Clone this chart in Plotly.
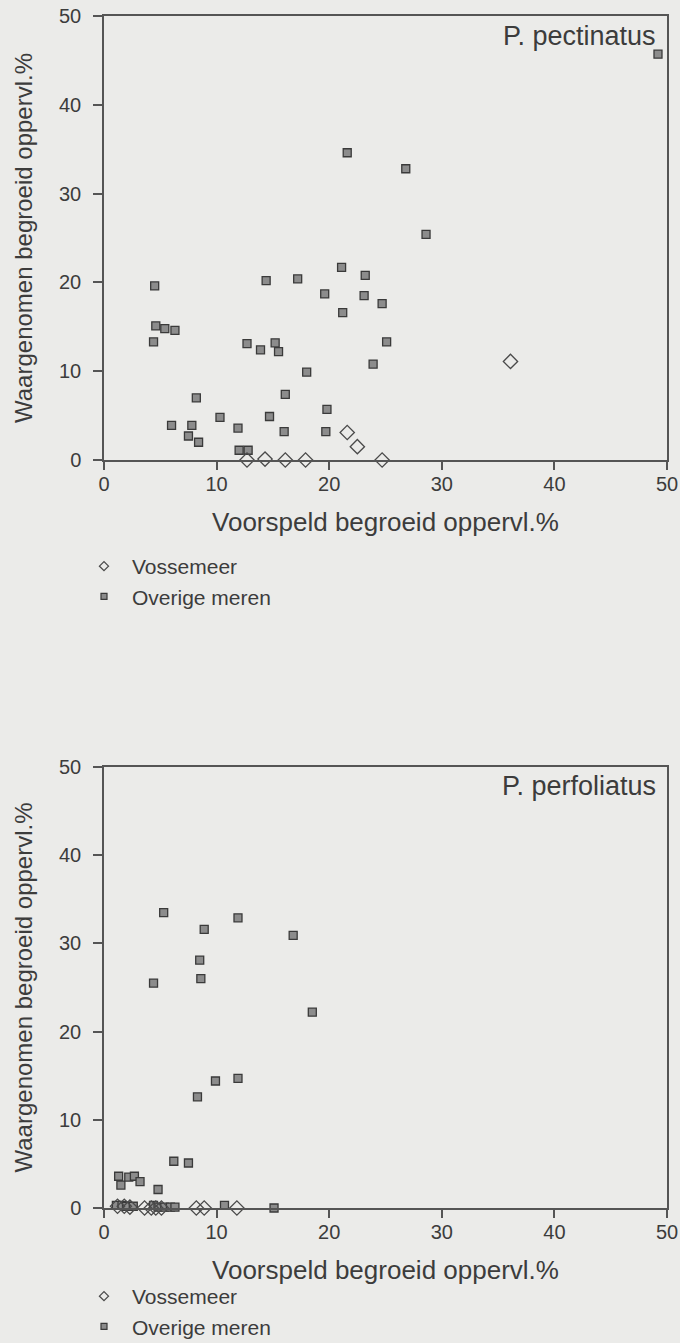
import plotly.graph_objects as go

# ---- Panel 1: P. pectinatus ----
pect_vosse_x = [36.1, 21.6, 22.5, 12.7, 14.3, 16.1, 17.9, 24.7]
pect_vosse_y = [11.1, 3.1, 1.5, 0.0, 0.1, 0.0, 0.0, 0.0]
pect_over_x = [49.2, 21.6, 26.8, 28.6, 21.1, 4.5, 14.4, 17.2, 19.6, 23.2, 23.1, 24.7, 21.2,
               4.6, 5.4, 6.3, 4.4, 12.7, 13.9, 15.2, 15.5, 25.1, 23.9, 18.0, 16.1, 8.2,
               19.8, 10.3, 14.7, 6.0, 7.8, 11.9, 16.0, 19.7, 7.5, 8.4, 12.0, 12.8]
pect_over_y = [45.7, 34.6, 32.8, 25.4, 21.7, 19.6, 20.2, 20.4, 18.7, 20.8, 18.5, 17.6, 16.6,
               15.1, 14.8, 14.6, 13.3, 13.1, 12.4, 13.2, 12.2, 13.3, 10.8, 9.9, 7.4, 7.0,
               5.7, 4.8, 4.9, 3.9, 3.9, 3.6, 3.2, 3.2, 2.7, 2.0, 1.1, 1.1]

# ---- Panel 2: P. perfoliatus ----
perf_vosse_x = [1.2, 1.8, 2.3, 3.6, 4.2, 4.6, 5.1, 8.2, 8.9, 11.8]
perf_vosse_y = [0.2, 0.2, 0.1, 0.0, 0.0, 0.0, 0.0, 0.0, 0.0, 0.0]
perf_over_x = [5.3, 11.9, 8.9, 16.8, 8.5, 8.6, 4.4, 18.5, 9.9, 11.9, 8.3, 6.2, 7.5,
               1.3, 1.5, 2.2, 2.7, 3.2, 4.8, 1.1, 1.6, 2.0, 2.6, 4.4, 4.8, 5.4, 5.9,
               6.3, 10.7, 15.1]
perf_over_y = [33.5, 32.9, 31.6, 30.9, 28.1, 26.0, 25.5, 22.2, 14.4, 14.7, 12.6, 5.3, 5.1,
               3.6, 2.6, 3.5, 3.6, 3.0, 2.1, 0.3, 0.3, 0.2, 0.2, 0.3, 0.1, 0.1, 0.1,
               0.1, 0.3, 0.0]

axis_ticks = [0, 10, 20, 30, 40, 50]
panel_titles = ["P. pectinatus", "P. perfoliatus"]
series_names = ["Vossemeer", "Overige meren"]
x_title = "Voorspeld begroeid oppervl.%"
y_title = "Waargenomen begroeid oppervl.%"

BG = "#ebebe9"
INK = "#3c3c3c"
AX = "#555555"
FONT = "Liberation Sans, Arial, sans-serif"
H = 1343
W = 680

fig = go.Figure()

diamond = dict(symbol="diamond-open", size=11, color="#4a4a4a", line=dict(width=1.3, color="#4a4a4a"))
square = dict(symbol="square", size=8, color="#8c8c8c", line=dict(width=1.3, color="#3a3a3a"))
diamond_leg = dict(symbol="diamond-open", size=7, color="#4a4a4a", line=dict(width=1.3, color="#4a4a4a"))
square_leg = dict(symbol="square", size=6, color="#8c8c8c", line=dict(width=1.2, color="#3a3a3a"))

panels = [
    ("x", "y", "legend", pect_vosse_x, pect_vosse_y, pect_over_x, pect_over_y),
    ("x2", "y2", "legend2", perf_vosse_x, perf_vosse_y, perf_over_x, perf_over_y),
]
for xa, ya, lg, vx, vy, ox, oy in panels:
    fig.add_trace(go.Scatter(x=ox, y=oy, mode="markers", marker=square, xaxis=xa, yaxis=ya,
                             showlegend=False, cliponaxis=False, name=series_names[1]))
    fig.add_trace(go.Scatter(x=vx, y=vy, mode="markers", marker=diamond, xaxis=xa, yaxis=ya,
                             showlegend=False, cliponaxis=False, name=series_names[0]))
    # legend entries (smaller symbols as in the original)
    fig.add_trace(go.Scatter(x=[None], y=[None], mode="markers", marker=diamond_leg, xaxis=xa, yaxis=ya,
                             legend=lg, name=series_names[0]))
    fig.add_trace(go.Scatter(x=[None], y=[None], mode="markers", marker=square_leg, xaxis=xa, yaxis=ya,
                             legend=lg, name=series_names[1]))

def xaxis_style(anchor):
    return dict(range=[0, 50], tickvals=axis_ticks, ticks="outside", ticklen=8, tickwidth=1.5,
                tickcolor=AX, showline=True, linecolor=AX, linewidth=1.5, mirror=True,
                showgrid=False, zeroline=False, anchor=anchor, domain=[104 / W, 667 / W],
                automargin=False,
                tickfont=dict(size=20, color=INK, family=FONT), ticklabelstandoff=-3,
                title=dict(text=x_title, font=dict(size=26, color=INK, family=FONT), standoff=19))

def yaxis_style(anchor, top, bottom):
    return dict(range=[0, 50], tickvals=axis_ticks, ticks="outside", ticklen=9, tickwidth=1.5,
                tickcolor=AX, showline=True, linecolor=AX, linewidth=1.5, mirror=True,
                showgrid=False, zeroline=False, anchor=anchor, automargin=False,
                domain=[1 - bottom / H, 1 - top / H],
                tickfont=dict(size=20, color=INK, family=FONT), ticklabelstandoff=8,
                title=dict(text=y_title, font=dict(size=24, color=INK, family=FONT), standoff=20))

legend_common = dict(font=dict(size=21, color=INK, family=FONT), bgcolor="rgba(0,0,0,0)",
                     xanchor="left", yanchor="top", tracegroupgap=0, itemsizing="trace",
                     itemwidth=46)

fig.update_layout(
    width=W, height=H,
    margin=dict(l=0, r=0, t=0, b=0, autoexpand=False),
    paper_bgcolor=BG, plot_bgcolor=BG,
    font=dict(family=FONT, color=INK),
    xaxis=xaxis_style("y"),
    yaxis=yaxis_style("x", 16, 460),
    xaxis2=xaxis_style("y2"),
    yaxis2=yaxis_style("x2", 767, 1208),
    legend=dict(x=76 / W, y=1 - 546 / H, **legend_common),
    legend2=dict(x=76 / W, y=1 - 1276 / H, **legend_common),
    annotations=[
        dict(text=panel_titles[0], xref="paper", yref="paper", x=658 / W, y=1 - 36 / H,
             xanchor="right", yanchor="middle", showarrow=False,
             font=dict(size=27, color=INK, family=FONT)),
        dict(text=panel_titles[1], xref="paper", yref="paper", x=658 / W, y=1 - 786 / H,
             xanchor="right", yanchor="middle", showarrow=False,
             font=dict(size=27, color=INK, family=FONT)),
    ],
)

fig.write_html("out.html")
